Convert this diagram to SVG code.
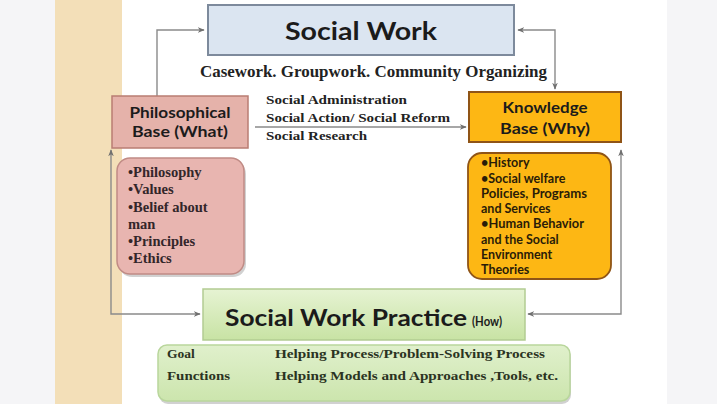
<svg xmlns="http://www.w3.org/2000/svg" width="720" height="404" viewBox="0 0 720 404">
<defs>
<style>
.sans{font-family:Lato,"Open Sans","Liberation Sans",sans-serif;font-weight:bold;fill:#1b1b1b}
.serif{font-family:"Liberation Serif","Times New Roman",serif;font-weight:bold;fill:#222}
.conn{fill:none;stroke:#8a8a8a;stroke-width:1.4}
.shadow{fill:#000;opacity:0.18}
</style>
<marker id="arr" viewBox="0 0 10 10" refX="9" refY="5" markerWidth="7" markerHeight="7" orient="auto-start-reverse" markerUnits="userSpaceOnUse">
<path d="M0,1 L10,5 L0,9 L3,5 Z" fill="#6f6f6f"/>
</marker>
<linearGradient id="greenG" x1="0" y1="0" x2="0" y2="1">
<stop offset="0" stop-color="#e6f3d3"/>
<stop offset="1" stop-color="#c8e3a4"/>
</linearGradient>
<linearGradient id="greenG2" x1="0" y1="0" x2="0" y2="1">
<stop offset="0" stop-color="#e0f0cc"/>
<stop offset="1" stop-color="#cce5ad"/>
</linearGradient>
</defs>
<rect x="0" y="0" width="720" height="404" fill="#ffffff"/>
<rect x="0" y="0" width="55" height="404" fill="#f5f5f7"/>
<rect x="55" y="0" width="67" height="404" fill="#f3dfb8"/>
<rect x="667" y="0" width="50" height="404" fill="#f5f5f7"/>

<g id="connectors">
<path class="conn" d="M157,96 V30 H204" marker-end="url(#arr)"/>
<path class="conn" d="M518,30 H555 V89" marker-start="url(#arr)" marker-end="url(#arr)"/>
<path class="conn" d="M255,127 H466" marker-end="url(#arr)"/>
<path class="conn" d="M111,150 V314 H200" marker-start="url(#arr)" marker-end="url(#arr)"/>
<path class="conn" d="M621,150 V314 H528" marker-start="url(#arr)" marker-end="url(#arr)"/>
</g>

<g id="social-work">
<rect x="208" y="5" width="306" height="50" fill="#dbe5f1" stroke="#7d8a9c" stroke-width="2"/>
<text class="sans" x="361" y="40" font-size="25" text-anchor="middle" textLength="152" lengthAdjust="spacingAndGlyphs">Social Work</text>
</g>

<g id="methods">
<text class="serif" x="200" y="77" font-size="16" textLength="347" lengthAdjust="spacingAndGlyphs">Casework. Groupwork. Community Organizing</text>
</g>

<g id="secondary-methods">
<text class="serif" x="266" y="104" font-size="13.5" textLength="141" lengthAdjust="spacingAndGlyphs">Social Administration</text>
<text class="serif" x="266" y="122" font-size="13.5" textLength="184" lengthAdjust="spacingAndGlyphs">Social Action/ Social Reform</text>
<text class="serif" x="266" y="140" font-size="13.5" textLength="101" lengthAdjust="spacingAndGlyphs">Social Research</text>
</g>

<g id="philosophical-base">
<rect x="112" y="96" width="136" height="52" fill="#e5b2aa" stroke="#b97d73" stroke-width="1.5"/>
<text class="sans" x="180" y="118" font-size="16" text-anchor="middle" textLength="101" lengthAdjust="spacingAndGlyphs">Philosophical</text>
<text class="sans" x="180" y="137" font-size="16" text-anchor="middle" textLength="96" lengthAdjust="spacingAndGlyphs">Base (What)</text>
</g>

<g id="philosophical-list">
<rect class="shadow" x="119" y="161" width="127" height="116" rx="13"/>
<rect x="117" y="158" width="127" height="116" rx="13" fill="#e8b5b0" stroke="#c08b85" stroke-width="1.5"/>
<text class="serif" x="128" y="177" font-size="14.5" style="fill:#33262a">•Philosophy</text>
<text class="serif" x="128" y="194" font-size="14.5" style="fill:#33262a">•Values</text>
<text class="serif" x="128" y="212" font-size="14.5" style="fill:#33262a">•Belief about</text>
<text class="serif" x="128" y="229" font-size="14.5" style="fill:#33262a">man</text>
<text class="serif" x="128" y="246" font-size="14.5" style="fill:#33262a">•Principles</text>
<text class="serif" x="128" y="263" font-size="14.5" style="fill:#33262a">•Ethics</text>
</g>

<g id="knowledge-base">
<rect x="469" y="92" width="152" height="50" fill="#fdb714" stroke="#8f5416" stroke-width="2"/>
<text class="sans" x="545" y="113" font-size="16" text-anchor="middle" textLength="85" lengthAdjust="spacingAndGlyphs">Knowledge</text>
<text class="sans" x="545" y="134" font-size="16" text-anchor="middle" textLength="90" lengthAdjust="spacingAndGlyphs">Base (Why)</text>
</g>

<g id="knowledge-list">
<rect x="468" y="153" width="143" height="126" rx="14" fill="#fdb714" stroke="#8f5416" stroke-width="1.8"/>
<text class="sans" x="481" y="167" font-size="12.5" style="fill:#2a1c08">•History</text>
<text class="sans" x="481" y="183" font-size="12.5" style="fill:#2a1c08">•Social welfare</text>
<text class="sans" x="481" y="198" font-size="12.5" style="fill:#2a1c08" textLength="106" lengthAdjust="spacingAndGlyphs">Policies, Programs</text>
<text class="sans" x="481" y="213" font-size="12.5" style="fill:#2a1c08">and Services</text>
<text class="sans" x="481" y="228" font-size="12.5" style="fill:#2a1c08" textLength="103" lengthAdjust="spacingAndGlyphs">•Human Behavior</text>
<text class="sans" x="481" y="244" font-size="12.5" style="fill:#2a1c08">and the Social</text>
<text class="sans" x="481" y="259" font-size="12.5" style="fill:#2a1c08">Environment</text>
<text class="sans" x="481" y="274" font-size="12.5" style="fill:#2a1c08">Theories</text>
</g>

<g id="practice">
<rect x="203" y="289" width="322" height="51" fill="url(#greenG)" stroke="#b2cc92" stroke-width="1.5"/>
<text class="sans" x="225" y="326" font-size="23" textLength="242" lengthAdjust="spacingAndGlyphs">Social Work Practice</text>
<text class="sans" x="472" y="326" font-size="12.5" textLength="30" lengthAdjust="spacingAndGlyphs">(How)</text>
</g>

<g id="practice-details">
<rect class="shadow" x="159" y="348" width="412" height="56" rx="9"/>
<rect x="158" y="345" width="412" height="56" rx="9" fill="url(#greenG2)" stroke="#b9d69c" stroke-width="1.5"/>
<text class="serif" x="167" y="358" font-size="13.5" style="fill:#2b3322">Goal</text>
<text class="serif" x="167" y="380" font-size="13.5" style="fill:#2b3322" textLength="63" lengthAdjust="spacingAndGlyphs">Functions</text>
<text class="serif" x="275" y="358" font-size="13.5" style="fill:#2b3322" textLength="270" lengthAdjust="spacingAndGlyphs">Helping Process/Problem-Solving Process</text>
<text class="serif" x="275" y="380" font-size="13.5" style="fill:#2b3322" textLength="283" lengthAdjust="spacingAndGlyphs">Helping Models and Approaches ,Tools, etc.</text>
</g>
</svg>
